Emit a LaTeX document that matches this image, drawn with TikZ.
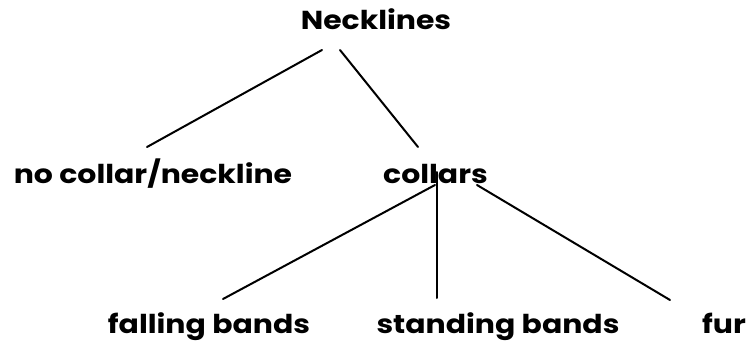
\documentclass[tikz,border=0pt]{standalone}
\usepackage{fontspec}
\setmainfont{Poppins}[FakeStretch=1.15]
\usetikzlibrary{calc}
\tikzset{
  label/.style={font=\fontsize{26}{30}\selectfont\bfseries, inner sep=0pt, anchor=base},
  branch/.style={line width=2pt, line cap=round}
}
\begin{document}
\begin{tikzpicture}[x=1pt, y=-1pt]
  \useasboundingbox[fill=white] (0,0) rectangle (748,343);
  % labels of the tree
  \node[label] (top) at (376,29)  {Necklines};
  \node[label] (nc)  at (153,183) {no collar/neckline};
  \node[label] (col) at (435.5,183) {collars};
  \node[label] (fb)  at (209,333) {falling bands};
  \node[label] (sb)  at (498,333) {standing bands};
  \node[label] (fur) at (724,333) {fur};
  % branches
  \draw[branch] ($(top.base)+(-54,21)$) -- ($(nc.base)+(-6,-36)$);
  \draw[branch] ($(top.base)+(-36,21)$) -- ($(col.base)+(-17.5,-36)$);
  \draw[branch] ($(col.base)+(-0.5,2)$) -- ($(fb.base)+(14,-34)$);
  \draw[branch] ($(col.base)+(1.5,-11)$) -- ($(sb.base)+(-61,-35)$);
  \draw[branch] ($(col.base)+(41.5,2)$) -- ($(fur.base)+(-54,-33)$);
\end{tikzpicture}
\end{document}
